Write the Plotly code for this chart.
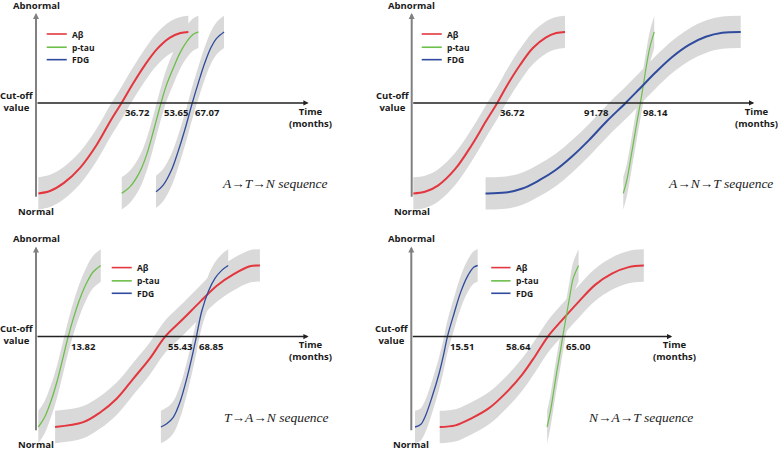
import plotly.graph_objects as go

# ---------------- data (months, level: 0 = normal, 100 = abnormal) ----------------
CUTOFF = 56
BAND_HALF = 10

# Panel 1: A -> T -> N
p1_abeta_m = [1.0, 6.0, 12.0, 19.0, 26.0, 32.0, 36.72, 41.0, 46.5, 52.0, 57.5, 62.0, 65.4]
p1_abeta_L = [0, 1.5, 6.5, 16, 30, 45, 56, 66.5, 79, 89.5, 96.5, 99.3, 100]
p1_ptau_m = [36.8, 40.3, 44.6, 47.5, 50.3, 53.65, 56.1, 58.9, 61.8, 64.7, 67.5, 69.7]
p1_ptau_L = [0, 4, 13.5, 24, 38, 56, 67.5, 77.5, 87, 94, 98.5, 100]
p1_fdg_m = [51.5, 54.5, 58.3, 61.0, 64.0, 67.07, 70.0, 72.5, 75.0, 77.5, 80.7]
p1_fdg_L = [1, 5, 15, 26, 40, 56, 70, 81, 90, 96, 100]
p1_cross = [36.72, 53.65, 67.07]
p1_cross_side = ["left", "left", "left"]

# Panel 2: A -> N -> T
p2_abeta_m = [0.7, 5.7, 11.4, 18.6, 25.8, 31.8, 36.72, 41.0, 46.5, 52.0, 57.5, 62.0, 65.8]
p2_abeta_L = [0, 1, 5, 15, 30, 44.5, 56, 67, 79.5, 90, 96.5, 99.3, 100]
p2_ptau_m = [90.8, 92.3, 94.4, 96.6, 98.14, 99.5, 100.9, 102.3, 104.1]
p2_ptau_L = [0, 8, 25, 43.5, 56, 68, 80.5, 91, 100]
p2_fdg_m = [31.7, 40.3, 47.5, 54.6, 61.8, 68.9, 76.1, 83.6, 91.78, 97.6, 104.7, 111.8, 119.0, 126.2, 133.3, 141.2]
p2_fdg_L = [0, 0.5, 3, 8, 14.5, 23, 33, 44.5, 56, 64.5, 75, 84.5, 92, 97, 99.5, 100]
p2_cross = [36.72, 91.78, 98.14]
p2_cross_side = ["left", "right", "left"]

# Panel 3: T -> A -> N
p3_abeta_m = [8.2, 20.3, 27.5, 34.6, 41.8, 48.9, 55.43, 63.2, 70.4, 77.6, 84.7, 91.8, 96.1]
p3_abeta_L = [0, 3, 9, 17.5, 30, 42.5, 56, 67, 77.5, 87.5, 94.5, 99.5, 100]
p3_ptau_m = [1.0, 3.7, 6.3, 9.0, 11.6, 13.82, 16.2, 18.6, 21.5, 24.5, 27.8]
p3_ptau_L = [0, 6, 15.5, 28, 43, 56, 68, 78.5, 88.5, 96, 100]
p3_fdg_m = [53.6, 56.1, 58.9, 61.8, 64.7, 66.8, 68.85, 71.1, 74.0, 76.8, 79.7, 82.5]
p3_fdg_L = [0, 2, 6, 15.5, 30, 42.5, 56, 71.5, 84, 92, 97, 100]
p3_cross = [13.82, 55.43, 68.85]
p3_cross_side = ["left", "left", "left"]

# Panel 4: N -> A -> T
p4_abeta_m = [12.2, 18.9, 26.0, 33.2, 40.5, 47.6, 53.2, 58.64, 64.6, 71.8, 78.9, 86.1, 93.3, 99.8]
p4_abeta_L = [0, 1, 5.5, 11.5, 21, 32.5, 44, 56, 66, 77.5, 88, 95, 99, 100]
p4_ptau_m = [58.3, 59.7, 61.1, 62.6, 64.0, 65.0, 66.7, 68.1, 69.5, 71.8]
p4_ptau_L = [0, 9.5, 22, 35.5, 47, 56, 70, 81.5, 92, 100]
p4_fdg_m = [1.6, 4.0, 6.1, 9.0, 11.9, 13.9, 15.51, 18.3, 21.2, 24.0, 26.9, 28.5]
p4_fdg_L = [0, 1.5, 7, 19, 33, 45, 56, 70, 83.5, 93, 99, 100]
p4_cross = [15.51, 58.64, 65.00]
p4_cross_side = ["left", "right", "left"]

series_names = ["Aβ", "p-tau", "FDG"]
seq_labels = ["A→T→N sequence", "A→N→T sequence", "T→A→N sequence", "N→A→T sequence"]

# ---------------- styling / layout ----------------
RED, GREEN, BLUE = "#e3363e", "#6cbf4a", "#2f4b9d"
BAND = "#d9d9d9"
AX_DARK, AX_GREY = "#222222", "#808080"
BOLD_FONT = "Open Sans"

panels = [
    dict(curves=[(p1_abeta_m, p1_abeta_L, RED, 2.0), (p1_ptau_m, p1_ptau_L, GREEN, 1.3), (p1_fdg_m, p1_fdg_L, BLUE, 1.3)],
         cross=p1_cross, side=p1_cross_side, xend=117, legend=(4.6, 13.2, 14.8), seq=(102.6, 6.3),
         xdom=[0, 0.5], ydom=[0.5, 1], xr=[-15.45, 151.5], yr=[-19.57, 119.75]),
    dict(curves=[(p2_abeta_m, p2_abeta_L, RED, 2.0), (p2_ptau_m, p2_ptau_L, GREEN, 1.2), (p2_fdg_m, p2_fdg_L, BLUE, 2.0)],
         cross=p2_cross, side=p2_cross_side, xend=147, legend=(4.3, 12.9, 14.5), seq=(132.5, 6.3),
         xdom=[0.5, 1], ydom=[0.5, 1], xr=[-9.74, 157.2], yr=[-19.57, 119.75]),
    dict(curves=[(p3_abeta_m, p3_abeta_L, RED, 2.0), (p3_ptau_m, p3_ptau_L, GREEN, 1.3), (p3_fdg_m, p3_fdg_L, BLUE, 1.3)],
         cross=p3_cross, side=p3_cross_side, xend=117, legend=(32.5, 41.1, 42.5), seq=(103.3, 5.8),
         xdom=[0, 0.5], ydom=[0, 0.5], xr=[-15.45, 151.5], yr=[-14.24, 125.08]),
    dict(curves=[(p4_abeta_m, p4_abeta_L, RED, 2.0), (p4_ptau_m, p4_ptau_L, GREEN, 1.2), (p4_fdg_m, p4_fdg_L, BLUE, 1.3)],
         cross=p4_cross, side=p4_cross_side, xend=112, legend=(34.3, 42.6, 44.1), seq=(98.4, 5.8),
         xdom=[0.5, 1], ydom=[0, 0.5], xr=[-9.57, 157.4], yr=[-14.24, 125.08]),
]
legend_levels = [98.7, 90.5, 82.8]
legend_colors = [RED, GREEN, BLUE]

fig = go.Figure()
annotations = []
shapes = []
layout_axes = {}

for i, pan in enumerate(panels):
    n = "" if i == 0 else str(i + 1)
    xa, ya = "x" + n, "y" + n
    layout_axes["xaxis" + n] = dict(domain=pan["xdom"], range=pan["xr"], visible=False, anchor=ya, fixedrange=True)
    layout_axes["yaxis" + n] = dict(domain=pan["ydom"], range=pan["yr"], visible=False, anchor=xa, fixedrange=True)

    # confidence bands (drawn first)
    for m, L, col, w in pan["curves"]:
        lo = [v - BAND_HALF for v in L]
        hi = [v + BAND_HALF for v in L]
        fig.add_trace(go.Scatter(x=m, y=lo, mode="lines", line=dict(width=0, shape="spline", color=BAND),
                                 xaxis=xa, yaxis=ya, showlegend=False, hoverinfo="skip"))
        fig.add_trace(go.Scatter(x=m, y=hi, mode="lines", line=dict(width=0, shape="spline", color=BAND),
                                 fill="tonexty", fillcolor=BAND,
                                 xaxis=xa, yaxis=ya, showlegend=False, hoverinfo="skip"))
    # curves
    for (m, L, col, w), name in zip(pan["curves"], series_names):
        fig.add_trace(go.Scatter(x=m, y=L, mode="lines", name=name,
                                 line=dict(color=col, width=w, shape="spline"),
                                 xaxis=xa, yaxis=ya, showlegend=False))

    # y axis (grey) with arrow
    annotations.append(dict(x=0, y=111.7, ax=0, ay=-3, xref=xa, yref=ya, axref=xa, ayref=ya,
                            text="", showarrow=True, arrowhead=2, arrowsize=0.6, arrowwidth=2,
                            arrowcolor=AX_GREY, standoff=0, startstandoff=0))
    # x axis (cut-off) with arrow
    annotations.append(dict(x=pan["xend"], y=CUTOFF, ax=0, ay=CUTOFF, xref=xa, yref=ya, axref=xa, ayref=ya,
                            text="", showarrow=True, arrowhead=2, arrowsize=0.75, arrowwidth=1.4,
                            arrowcolor=AX_DARK, standoff=0, startstandoff=0))

    txt = dict(xref=xa, yref=ya, showarrow=False, font=dict(family=BOLD_FONT, size=9.5, color="#1a1a1a"))
    annotations.append(dict(txt, x=0, y=116.5, text="<b>Abnormal</b>", xanchor="center", yanchor="middle"))
    annotations.append(dict(txt, x=0, y=-11, text="<b>Normal</b>", xanchor="center", yanchor="middle"))
    annotations.append(dict(txt, x=-8.4, y=CUTOFF + 1, text="<b>Cut-off<br>value</b>", xanchor="center",
                            yanchor="middle", align="center"))
    annotations.append(dict(txt, x=pan["xend"] + 0.8, y=CUTOFF - 8.7, text="<b>Time<br>(months)</b>",
                            xanchor="center", yanchor="middle", align="center"))
    for c, s in zip(pan["cross"], pan["side"]):
        annotations.append(dict(txt, x=c, y=CUTOFF - 5.9, text="<b>%.2f</b>" % c, xanchor=s, yanchor="middle",
                                xshift=1 if s == "left" else -15))

    # legend
    lx0, lx1, ltx = pan["legend"]
    for lev, col, name in zip(legend_levels, legend_colors, series_names):
        shapes.append(dict(type="line", xref=xa, yref=ya, x0=lx0, x1=lx1, y0=lev, y1=lev,
                           line=dict(color=col, width=1.6)))
        annotations.append(dict(xref=xa, yref=ya, showarrow=False, x=ltx, y=lev, text="<b>%s</b>" % name,
                                xanchor="left", yanchor="middle",
                                font=dict(family=BOLD_FONT, size=8.5, color="#1a1a1a")))

    # sequence label
    sx, sy = pan["seq"]
    annotations.append(dict(xref=xa, yref=ya, showarrow=False, x=sx, y=sy, text="<i>%s</i>" % seq_labels[i],
                            xanchor="center", yanchor="middle",
                            font=dict(family="Liberation Serif", size=13.5, color="#222222")))

fig.update_layout(
    width=778, height=450,
    margin=dict(l=0, r=0, t=0, b=0),
    paper_bgcolor="white", plot_bgcolor="white",
    showlegend=False,
    annotations=annotations, shapes=shapes,
    **layout_axes,
)

fig.write_html("out.html", config={"displayModeBar": False, "staticPlot": True},
               post_script="document.body.style.margin='0';document.body.style.overflow='hidden';")
